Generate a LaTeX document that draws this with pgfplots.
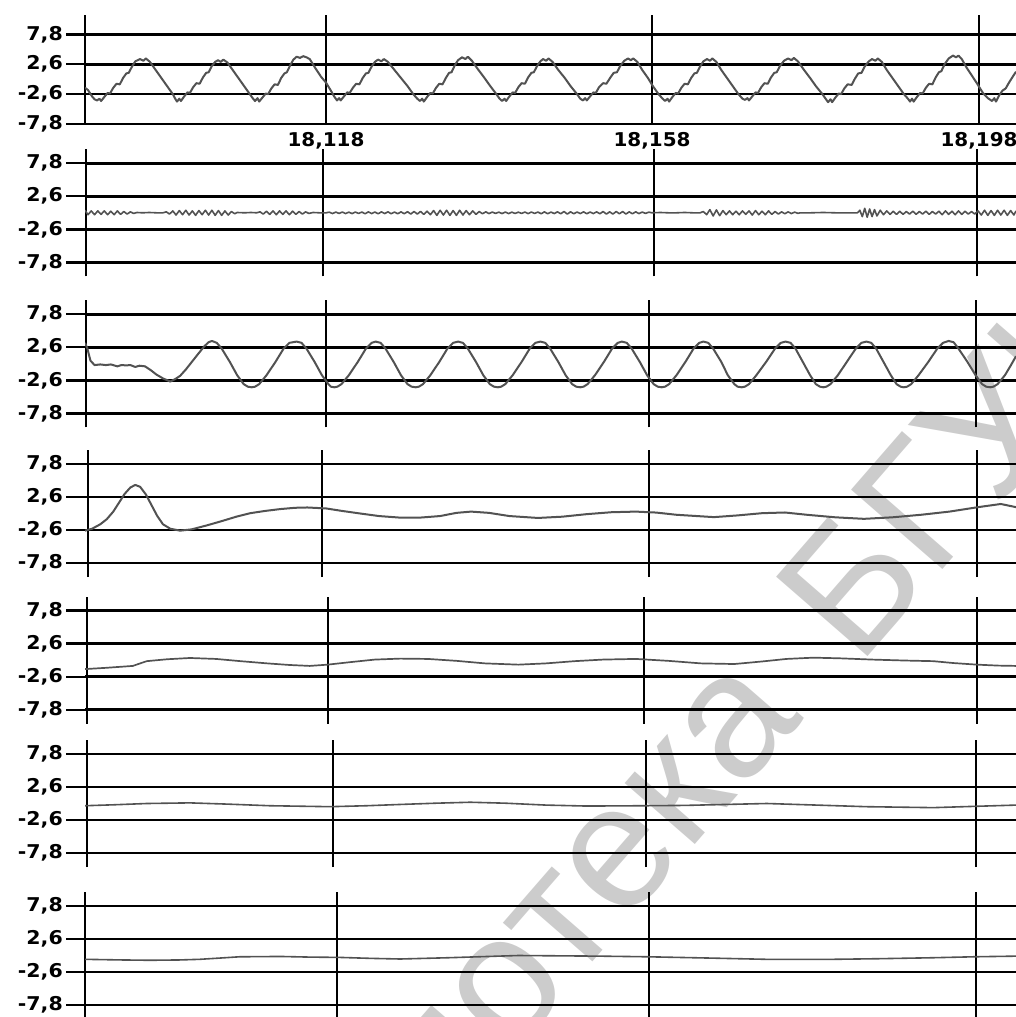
\documentclass[border=0pt]{standalone}
\usepackage{fontspec}
\usepackage{pgfplots}
\pgfplotsset{compat=1.18}
\newfontfamily\labelfont{DejaVu Sans}
\newfontfamily\wmfont{Liberation Sans}
\pgfplotsset{
  panel/.style={
    scale only axis, width=931pt, height=127pt,
    xmin=88.43, xmax=202.66, ymin=-10, ymax=10,
    anchor=north west,
    axis line style={draw=none},
    ytick={-7.8,-2.6,2.6,7.8},
    yticklabels={{-7,8},{-2,6},{2,6},{7,8}},
    xticklabel={\relax},
    grid=major,
    major grid style={black, line width=2.6pt},
    tick align=outside, major tick length=19pt,
    ytick style={black, line width=2.4pt},
    xtick style={draw=none},
    ytick pos=left, xtick pos=bottom,
    ticklabel style={font=\labelfont\bfseries\fontsize{19}{20}\selectfont, inner sep=0pt},
    yticklabel style={xshift=-3pt, xscale=1.08},
    xticklabel style={yshift=11pt, xscale=1.05},
    clip=true, no markers,
    cycle list={{black!68, line width=2pt, line join=round}},
  }
}
\begin{document}
\begin{tikzpicture}[x=1pt,y=1pt]
\useasboundingbox (0,0) rectangle (1016,-1017);
\node[rotate=49,anchor=base east,text=black!20,font=\wmfont\fontsize{176}{176}\selectfont,inner sep=0pt] at (805,-718) {Библиотека};
\node[rotate=49,anchor=base west,text=black!20,font=\wmfont\fontsize{176}{176}\selectfont,inner sep=0pt] at (858,-668) {БГУИР};

% Panel 1
\begin{axis}[panel, at={(85pt,-15pt)}, height=109pt, ymin=-7.8, ymax=11.16,
  xtick={88.43,118,158,198.12}, xticklabels={,{18,118},{18,158},{18,198}}]
\addplot[black!68, line width=2pt, line join=round] coordinates {
(88.43,-1.5)(88.8,-1.9)(89.3,-3.0)(89.6,-3.5)
(89.9,-3.7)(90.2,-3.4)(90.4,-3.8)(90.8,-3.1)(91.2,-2.4)(91.5,-2.5)(91.9,-1.5)(92.3,-0.8)(92.7,-0.9)(93.1,0.2)(93.5,1.0)(93.8,1.1)(94.2,2.2)(94.6,3.1)(95.18,3.5)
(95.6,3.2)(95.9,3.6)(96.4,3.0)(97.1,1.6)(97.8,0.2)(98.5,-1.2)(99.2,-2.6)(99.5,-3.4)
(99.72,-3.9)(100.0,-3.4)(100.2,-3.8)(100.6,-3.0)(101.0,-2.3)(101.3,-2.4)(101.7,-1.4)(102.1,-0.7)(102.5,-0.8)(102.9,0.3)(103.3,1.1)(103.6,1.2)(104.0,2.3)(104.4,3.0)(104.75,3.3)
(105.1,3.0)(105.4,3.4)(105.9,2.9)(106.6,1.5)(107.3,0.1)(108.0,-1.3)(108.7,-2.7)(109.0,-3.3)
(109.29,-3.8)(109.6,-3.3)(109.8,-3.9)(110.2,-3.2)(110.6,-2.5)(110.9,-2.6)(111.3,-1.6)(111.7,-0.9)(112.1,-1.0)(112.5,0.2)(112.9,1.0)(113.2,1.2)(113.6,2.4)(114.0,3.4)(114.4,3.9)(114.81,3.7)(115.2,4.0)(115.6,3.8)
(116.0,3.5)(116.7,1.9)(117.4,0.4)(118.0,-0.6)(118.6,-2.0)(119.0,-3.0)
(119.35,-3.7)(119.6,-3.3)(119.8,-3.7)(120.2,-3.0)(120.6,-2.3)(120.9,-2.4)(121.3,-1.5)(121.7,-0.8)(122.1,-0.9)(122.5,0.2)(122.9,1.0)(123.2,1.1)(123.6,2.2)(124.0,3.0)(124.38,3.4)
(124.8,3.1)(125.1,3.5)(125.6,3.0)(126.4,1.6)(127.2,0.2)(128.0,-1.2)(128.7,-2.6)(129.2,-3.4)
(129.53,-3.8)(129.8,-3.4)(130.0,-3.9)(130.4,-3.1)(130.8,-2.4)(131.1,-2.5)(131.5,-1.5)(131.9,-0.8)(132.3,-0.9)(132.7,0.2)(133.1,1.1)(133.4,1.2)(133.8,2.4)(134.2,3.3)(134.69,3.8)
(135.1,3.5)(135.4,3.9)(135.9,3.2)(136.6,1.8)(137.4,0.3)(138.1,-1.1)(138.9,-2.6)(139.3,-3.4)
(139.6,-3.8)(139.9,-3.4)(140.1,-3.8)(140.5,-3.0)(140.9,-2.3)(141.2,-2.4)(141.6,-1.4)(142.0,-0.7)(142.4,-0.8)(142.8,0.3)(143.2,1.1)(143.5,1.2)(143.9,2.3)(144.3,3.1)(144.63,3.5)
(145.0,3.2)(145.3,3.6)(145.8,3.0)(146.5,1.6)(147.3,0.2)(148.0,-1.2)(148.8,-2.6)(149.2,-3.4)
(149.53,-3.7)(149.8,-3.3)(150.0,-3.7)(150.4,-3.0)(150.8,-2.3)(151.1,-2.4)(151.5,-1.4)(152.0,-0.7)(152.4,-0.8)(152.9,0.3)(153.3,1.1)(153.7,1.2)(154.1,2.3)(154.6,3.2)(155.06,3.6)
(155.4,3.3)(155.7,3.6)(156.2,3.0)(156.8,1.6)(157.5,0.2)(158.1,-1.2)(158.8,-2.6)(159.3,-3.4)
(159.6,-3.8)(159.9,-3.4)(160.1,-3.9)(160.5,-3.1)(160.9,-2.4)(161.2,-2.5)(161.6,-1.5)(162.0,-0.8)(162.4,-0.9)(162.8,0.2)(163.2,1.0)(163.5,1.1)(163.9,2.2)(164.3,3.1)(164.75,3.5)
(165.1,3.2)(165.4,3.6)(165.9,3.0)(166.5,1.6)(167.2,0.2)(167.9,-1.2)(168.6,-2.6)(169.1,-3.4)
(169.41,-3.6)(169.7,-3.3)(169.9,-3.7)(170.3,-3.0)(170.7,-2.3)(171.0,-2.4)(171.4,-1.4)(171.8,-0.7)(172.2,-0.8)(172.6,0.3)(173.0,1.1)(173.3,1.2)(173.7,2.3)(174.2,3.2)(174.69,3.6)
(175.1,3.3)(175.4,3.7)(175.9,3.1)(176.6,1.7)(177.4,0.2)(178.1,-1.2)(178.9,-2.6)(179.3,-3.4)
(179.6,-4.0)(179.9,-3.5)(180.1,-4.0)(180.5,-3.2)(180.9,-2.5)(181.2,-2.6)(181.6,-1.6)(182.0,-0.9)(182.5,-1.0)(182.9,0.1)(183.3,1.0)(183.7,1.1)(184.1,2.2)(184.6,3.1)(185.0,3.5)
(185.4,3.2)(185.7,3.6)(186.2,3.0)(186.8,1.6)(187.5,0.2)(188.2,-1.2)(188.9,-2.6)(189.4,-3.4)
(189.66,-3.9)(189.9,-3.4)(190.1,-3.9)(190.5,-3.1)(190.9,-2.4)(191.2,-2.5)(191.6,-1.5)(192.0,-0.8)(192.4,-0.9)(192.8,0.3)(193.2,1.2)(193.5,1.4)(193.9,2.6)(194.4,3.6)(194.93,4.1)
(195.3,3.8)(195.6,4.1)(196.0,3.5)(196.6,2.0)(197.3,0.5)(197.9,-0.8)(198.6,-2.4)(199.2,-3.3)
(199.72,-3.8)(200.0,-3.3)(200.2,-3.9)(200.6,-2.8)(201.0,-2.0)(201.4,-1.6)(201.8,-0.6)(202.2,0.3)(202.66,1.3)
};
\end{axis}

% Panel 2
\begin{axis}[panel, at={(85pt,-149.3pt)}, xtick={88.55,117.63,158.25,197.88}]
\addplot[black!68, line width=1.6pt, line join=round] coordinates {
(88.43,0.4)(88.8,-0.3)(89.2,0.3)(89.6,-0.3)(90.0,0.3)(90.4,-0.25)(90.8,0.3)(91.2,-0.3)(91.6,0.25)(92.0,-0.3)(92.4,0.3)(92.8,-0.25)(93.2,0.2)(93.6,-0.2)(94.0,0.15)(94.4,-0.1)(94.8,0.05)
(95.5,0.0)(96.3,0.05)(97.2,0.0)(98.0,0.0)
(98.4,0.15)(98.8,-0.2)(99.2,0.3)(99.6,-0.35)(100.0,0.35)(100.4,-0.3)(100.8,0.4)(101.2,-0.35)(101.6,0.3)(102.0,-0.4)(102.4,0.35)(102.8,-0.3)(103.2,0.4)(103.6,-0.35)(104.0,0.4)(104.4,-0.4)(104.8,0.35)(105.2,-0.4)(105.6,0.3)(106.0,-0.35)(106.4,0.2)(106.8,-0.15)(107.1,0.05)
(108.0,0.0)(108.8,0.05)(109.5,0.0)
(109.9,0.15)(110.3,-0.2)(110.7,0.25)(111.1,-0.25)(111.5,0.3)(111.9,-0.3)(112.3,0.3)(112.7,-0.25)(113.1,0.3)(113.5,-0.3)(113.9,0.25)(114.3,-0.25)(114.7,0.2)(115.1,-0.2)(115.5,0.15)(115.9,-0.1)(116.4,0.05)
(117.2,0.0)(118.0,0.0)
(118.4,0.1)(118.8,-0.12)(119.2,0.12)(119.6,-0.1)(120.0,0.12)(120.4,-0.12)(120.8,0.1)(121.2,-0.12)(121.6,0.12)(122.0,-0.1)(122.4,0.12)(122.8,-0.15)(123.2,0.15)(123.6,-0.12)(124.0,0.12)(124.4,-0.15)(124.8,0.15)(125.2,-0.12)(125.6,0.15)(126.0,-0.15)(126.4,0.12)(126.8,-0.15)(127.2,0.15)(127.6,-0.15)(128.0,0.18)(128.4,-0.2)(128.8,0.2)(129.2,-0.2)(129.6,0.22)(130.0,-0.25)(130.4,0.25)(130.8,-0.3)
(131.2,0.35)(131.6,-0.4)(132.0,0.4)(132.4,-0.35)(132.8,0.4)(133.2,-0.4)(133.6,0.35)(134.0,-0.4)(134.4,0.4)(134.8,-0.35)(135.2,0.35)(135.6,-0.3)(136.0,0.3)(136.4,-0.25)(136.8,0.2)
(137.2,-0.15)(137.6,0.15)(138.0,-0.12)(138.4,0.12)(138.8,-0.1)(139.2,0.1)(139.6,-0.12)(140.0,0.12)(140.4,-0.12)(140.8,0.1)(141.2,-0.1)(141.6,0.1)(142.0,-0.1)(142.4,0.12)(142.8,-0.12)(143.2,0.12)(143.6,-0.1)(144.0,0.12)(144.4,-0.15)(144.8,0.15)(145.2,-0.15)(145.6,0.12)(146.0,-0.12)(146.4,0.15)(146.8,-0.15)(147.2,0.2)(147.6,-0.2)(148.0,0.15)(148.4,-0.15)(148.8,0.12)(149.2,-0.12)(149.6,0.15)(150.0,-0.15)(150.4,0.12)(150.8,-0.12)(151.2,0.15)(151.6,-0.15)
(152.0,0.2)(152.4,-0.2)(152.8,0.15)(153.2,-0.2)(153.6,0.2)(154.0,-0.15)(154.4,0.2)(154.8,-0.2)(155.2,0.15)(155.6,-0.15)(156.0,0.15)(156.4,-0.12)(156.8,0.12)(157.2,-0.1)(157.6,0.1)(158.0,0.0)
(159.0,0.05)(160.0,0.0)(161.0,0.0)(162.0,0.05)(163.0,0.0)(163.9,0.0)
(164.3,0.2)(164.7,-0.3)(165.1,0.5)(165.5,-0.5)(165.9,0.45)(166.3,-0.45)(166.7,0.35)(167.1,-0.3)(167.5,0.3)(167.9,-0.3)(168.3,0.25)(168.7,-0.3)(169.1,0.3)(169.5,-0.25)(169.9,0.3)(170.3,-0.35)(170.7,0.35)(171.1,-0.3)(171.5,0.25)(171.9,-0.3)(172.3,0.3)(172.7,-0.25)(173.1,0.2)(173.5,-0.2)
(173.9,0.15)(174.3,-0.15)(174.7,0.15)(175.1,-0.12)(175.5,0.1)(175.9,-0.08)(176.2,0.0)
(177.5,0.0)(179.0,0.05)(180.5,0.0)(182.0,0.0)(183.2,0.0)
(183.5,0.4)(183.8,-0.6)(184.1,0.7)(184.4,-0.7)(184.7,0.6)(185.0,-0.6)(185.3,0.5)(185.6,-0.5)(186.0,0.4)
(186.4,-0.3)(186.8,0.3)(187.2,-0.25)(187.6,0.25)(188.0,-0.25)(188.4,0.25)(188.8,-0.25)(189.2,0.2)(189.6,-0.2)(190.0,0.25)(190.4,-0.25)(190.8,0.2)(191.2,-0.2)(191.6,0.25)(192.0,-0.25)(192.4,0.2)(192.8,-0.2)(193.2,0.25)(193.6,-0.3)(194.0,0.3)(194.4,-0.25)(194.8,0.25)(195.2,-0.3)(195.6,0.3)(196.0,-0.25)(196.4,0.25)(196.8,-0.2)(197.2,0.2)(197.6,-0.2)
(198.0,0.3)(198.4,-0.35)(198.8,0.4)(199.2,-0.4)(199.6,0.35)(200.0,-0.4)(200.4,0.4)(200.8,-0.35)(201.2,0.4)(201.6,-0.4)(202.0,0.35)(202.4,-0.35)(202.66,0.3)
};
\end{axis}

% Panel 3
\begin{axis}[panel, at={(85pt,-300.3pt)}, xtick={88.55,118,157.63,197.75}]
\addplot[black!68, line width=2pt, line join=round] coordinates {
(88.43,3.3)(88.7,2.5)(89.1,0.5)(89.6,-0.2)(90.3,-0.1)(91.0,-0.2)(91.6,-0.1)(92.4,-0.4)(92.9,-0.2)(93.5,-0.25)(94.0,-0.2)(94.6,-0.5)(95.1,-0.3)(95.8,-0.4)(96.5,-1.0)(97.2,-1.7)(98.0,-2.3)(98.9,-2.8)(99.5,-2.4)(100.1,-1.9)
(100.8,-0.9)(101.6,0.4)(102.4,1.7)(103.1,2.8)(103.6,3.4)(104.0,3.6)
(104.6,3.3)(105.2,2.4)(106.2,0.3)(107.1,-1.8)(107.9,-3.2)(108.4,-3.6)(108.9,-3.7)
(109.3,-3.6)(109.8,-3.2)(110.7,-1.8)(111.8,0.3)(112.8,2.4)(113.5,3.3)(114.4,3.5)
(115.0,3.3)(115.6,2.4)(116.6,0.3)(117.5,-1.8)(118.3,-3.2)(118.6,-3.6)(119.0,-3.7)
(119.4,-3.6)(119.9,-3.2)(120.8,-1.8)(121.9,0.3)(122.9,2.4)(123.6,3.3)(124.1,3.5)
(124.7,3.3)(125.3,2.4)(126.3,0.3)(127.2,-1.8)(128.0,-3.2)(128.5,-3.6)(129.0,-3.7)
(129.4,-3.6)(129.9,-3.2)(130.8,-1.8)(131.9,0.3)(132.9,2.4)(133.6,3.3)(134.2,3.5)
(134.8,3.3)(135.4,2.4)(136.4,0.3)(137.3,-1.8)(138.1,-3.2)(138.6,-3.6)(139.1,-3.7)
(139.5,-3.6)(140.0,-3.2)(140.9,-1.8)(142.0,0.3)(143.0,2.4)(143.7,3.3)(144.3,3.5)
(144.9,3.3)(145.5,2.4)(146.5,0.3)(147.4,-1.8)(148.2,-3.2)(148.7,-3.6)(149.2,-3.7)
(149.6,-3.6)(150.1,-3.2)(151.0,-1.8)(152.1,0.3)(153.1,2.4)(153.8,3.3)(154.3,3.5)
(154.9,3.3)(155.5,2.4)(156.5,0.3)(157.4,-1.8)(158.2,-3.2)(158.7,-3.6)(159.2,-3.7)
(159.6,-3.6)(160.1,-3.2)(161.0,-1.8)(162.1,0.3)(163.1,2.4)(163.8,3.3)(164.3,3.5)
(164.9,3.3)(165.5,2.4)(166.5,0.3)(167.3,-1.8)(168.1,-3.2)(168.5,-3.6)(169.0,-3.7)
(169.4,-3.6)(169.9,-3.2)(170.8,-1.8)(172.0,0.3)(173.1,2.4)(173.8,3.3)(174.4,3.5)
(175.0,3.3)(175.6,2.4)(176.5,0.3)(177.4,-1.8)(178.1,-3.2)(178.6,-3.6)(179.0,-3.7)
(179.4,-3.6)(179.9,-3.2)(180.8,-1.8)(181.9,0.3)(183.0,2.4)(183.7,3.3)(184.3,3.5)
(184.9,3.3)(185.5,2.4)(186.4,0.3)(187.3,-1.8)(188.0,-3.2)(188.5,-3.6)(188.9,-3.7)
(189.3,-3.6)(189.8,-3.2)(190.7,-1.8)(191.9,0.3)(193.0,2.4)(193.7,3.3)(194.4,3.6)
(195.0,3.4)(195.6,2.4)(196.7,0.3)(197.7,-1.8)(198.5,-3.2)(199.0,-3.6)(199.5,-3.7)
(199.9,-3.6)(200.4,-3.2)(201.3,-1.8)(202.0,-0.3)(202.66,1.2)
};
\end{axis}

% Panel 4
\begin{axis}[panel, at={(85pt,-450pt)}, xtick={88.8,117.51,157.63,197.88}]
\addplot[black!68, line width=2pt, line join=round] coordinates {
(88.43,-2.7)(89.3,-2.4)(90.3,-1.7)(91.1,-0.9)(91.9,0.3)(92.6,1.7)(93.3,3.1)(94.0,4.1)(94.6,4.5)(95.2,4.2)(95.9,3.0)(96.6,1.3)(97.3,-0.4)(98.0,-1.7)(98.9,-2.4)(100.1,-2.7)(101.5,-2.5)(103.3,-1.9)(105.2,-1.2)(107.0,-0.5)(108.7,0.05)(110.5,0.4)(112.4,0.7)(114.2,0.9)(115.7,0.95)(118.0,0.8)(120.0,0.4)(122.2,0.0)(124.5,-0.4)(127.1,-0.65)(129.5,-0.65)(132.0,-0.4)(134.0,0.1)(135.8,0.3)(138.0,0.1)(140.5,-0.4)(144.0,-0.7)(147.0,-0.5)(150.0,-0.1)(153.0,0.2)(156.0,0.3)(158.5,0.15)(161.0,-0.2)(165.6,-0.57)(168.5,-0.3)(171.5,0.05)(174.3,0.16)(177.0,-0.2)(180.5,-0.6)(184.0,-0.84)(187.5,-0.6)(191.0,-0.2)(194.5,0.3)(198.0,1.0)(200.8,1.5)(202.66,1.0)
};
\end{axis}

% Panel 5
\begin{axis}[panel, at={(85pt,-596.7pt)}, xtick={88.67,118.25,157.02,197.88}]
\addplot[black!68, line width=1.7pt, line join=round] coordinates {
(88.43,-1.4)(91.0,-1.2)(94.3,-0.9)(95.2,-0.5)(96.0,-0.15)(98.5,0.15)(101.3,0.35)(104.5,0.2)(107.5,-0.15)(110.8,-0.5)(113.5,-0.75)(116.0,-0.9)(118.2,-0.7)(121.0,-0.3)(124.0,0.1)(127.1,0.25)(130.5,0.2)(134.0,-0.1)(137.5,-0.5)(141.6,-0.7)(145.0,-0.5)(148.5,-0.15)(152.0,0.1)(156.0,0.2)(160.0,-0.1)(164.0,-0.5)(168.1,-0.6)(171.5,-0.2)(174.5,0.2)(177.8,0.4)(181.0,0.3)(185.0,0.1)(189.0,-0.05)(192.5,-0.15)(195.0,-0.45)(197.9,-0.7)(200.5,-0.85)(202.66,-0.9)
};
\end{axis}

% Panel 6
\begin{axis}[panel, at={(85pt,-740pt)}, xtick={88.67,118.86,157.26,197.75}]
\addplot[black!68, line width=1.6pt, line join=round] coordinates {
(88.43,-0.35)(92.0,-0.2)(96.0,0.0)(101.3,0.1)(106.0,-0.1)(111.1,-0.35)(118.5,-0.5)(123.0,-0.35)(127.1,-0.15)(131.5,0.05)(135.7,0.2)(140.0,0.05)(145.0,-0.25)(150.0,-0.4)(157.1,-0.35)(162.0,-0.3)(167.0,-0.15)(172.1,0.0)(177.0,-0.2)(184.3,-0.5)(192.5,-0.65)(197.5,-0.45)(202.66,-0.25)
};
\end{axis}

% Panel 7
\begin{axis}[panel, at={(85pt,-892pt)}, xtick={88.43,119.35,157.63,197.75}]
\addplot[black!68, line width=1.6pt, line join=round] coordinates {
(88.43,-0.6)(93.0,-0.7)(96.4,-0.75)(100.0,-0.7)(102.5,-0.6)(105.0,-0.4)(107.4,-0.2)(112.4,-0.15)(116.0,-0.25)(119.7,-0.3)(123.5,-0.45)(127.1,-0.55)(133.0,-0.35)(141.6,0.0)(151.6,-0.1)(157.5,-0.2)(165.0,-0.4)(172.0,-0.6)(180.2,-0.6)(186.0,-0.5)(192.5,-0.35)(197.5,-0.2)(202.66,-0.1)
};
\end{axis}
\end{tikzpicture}
\end{document}
